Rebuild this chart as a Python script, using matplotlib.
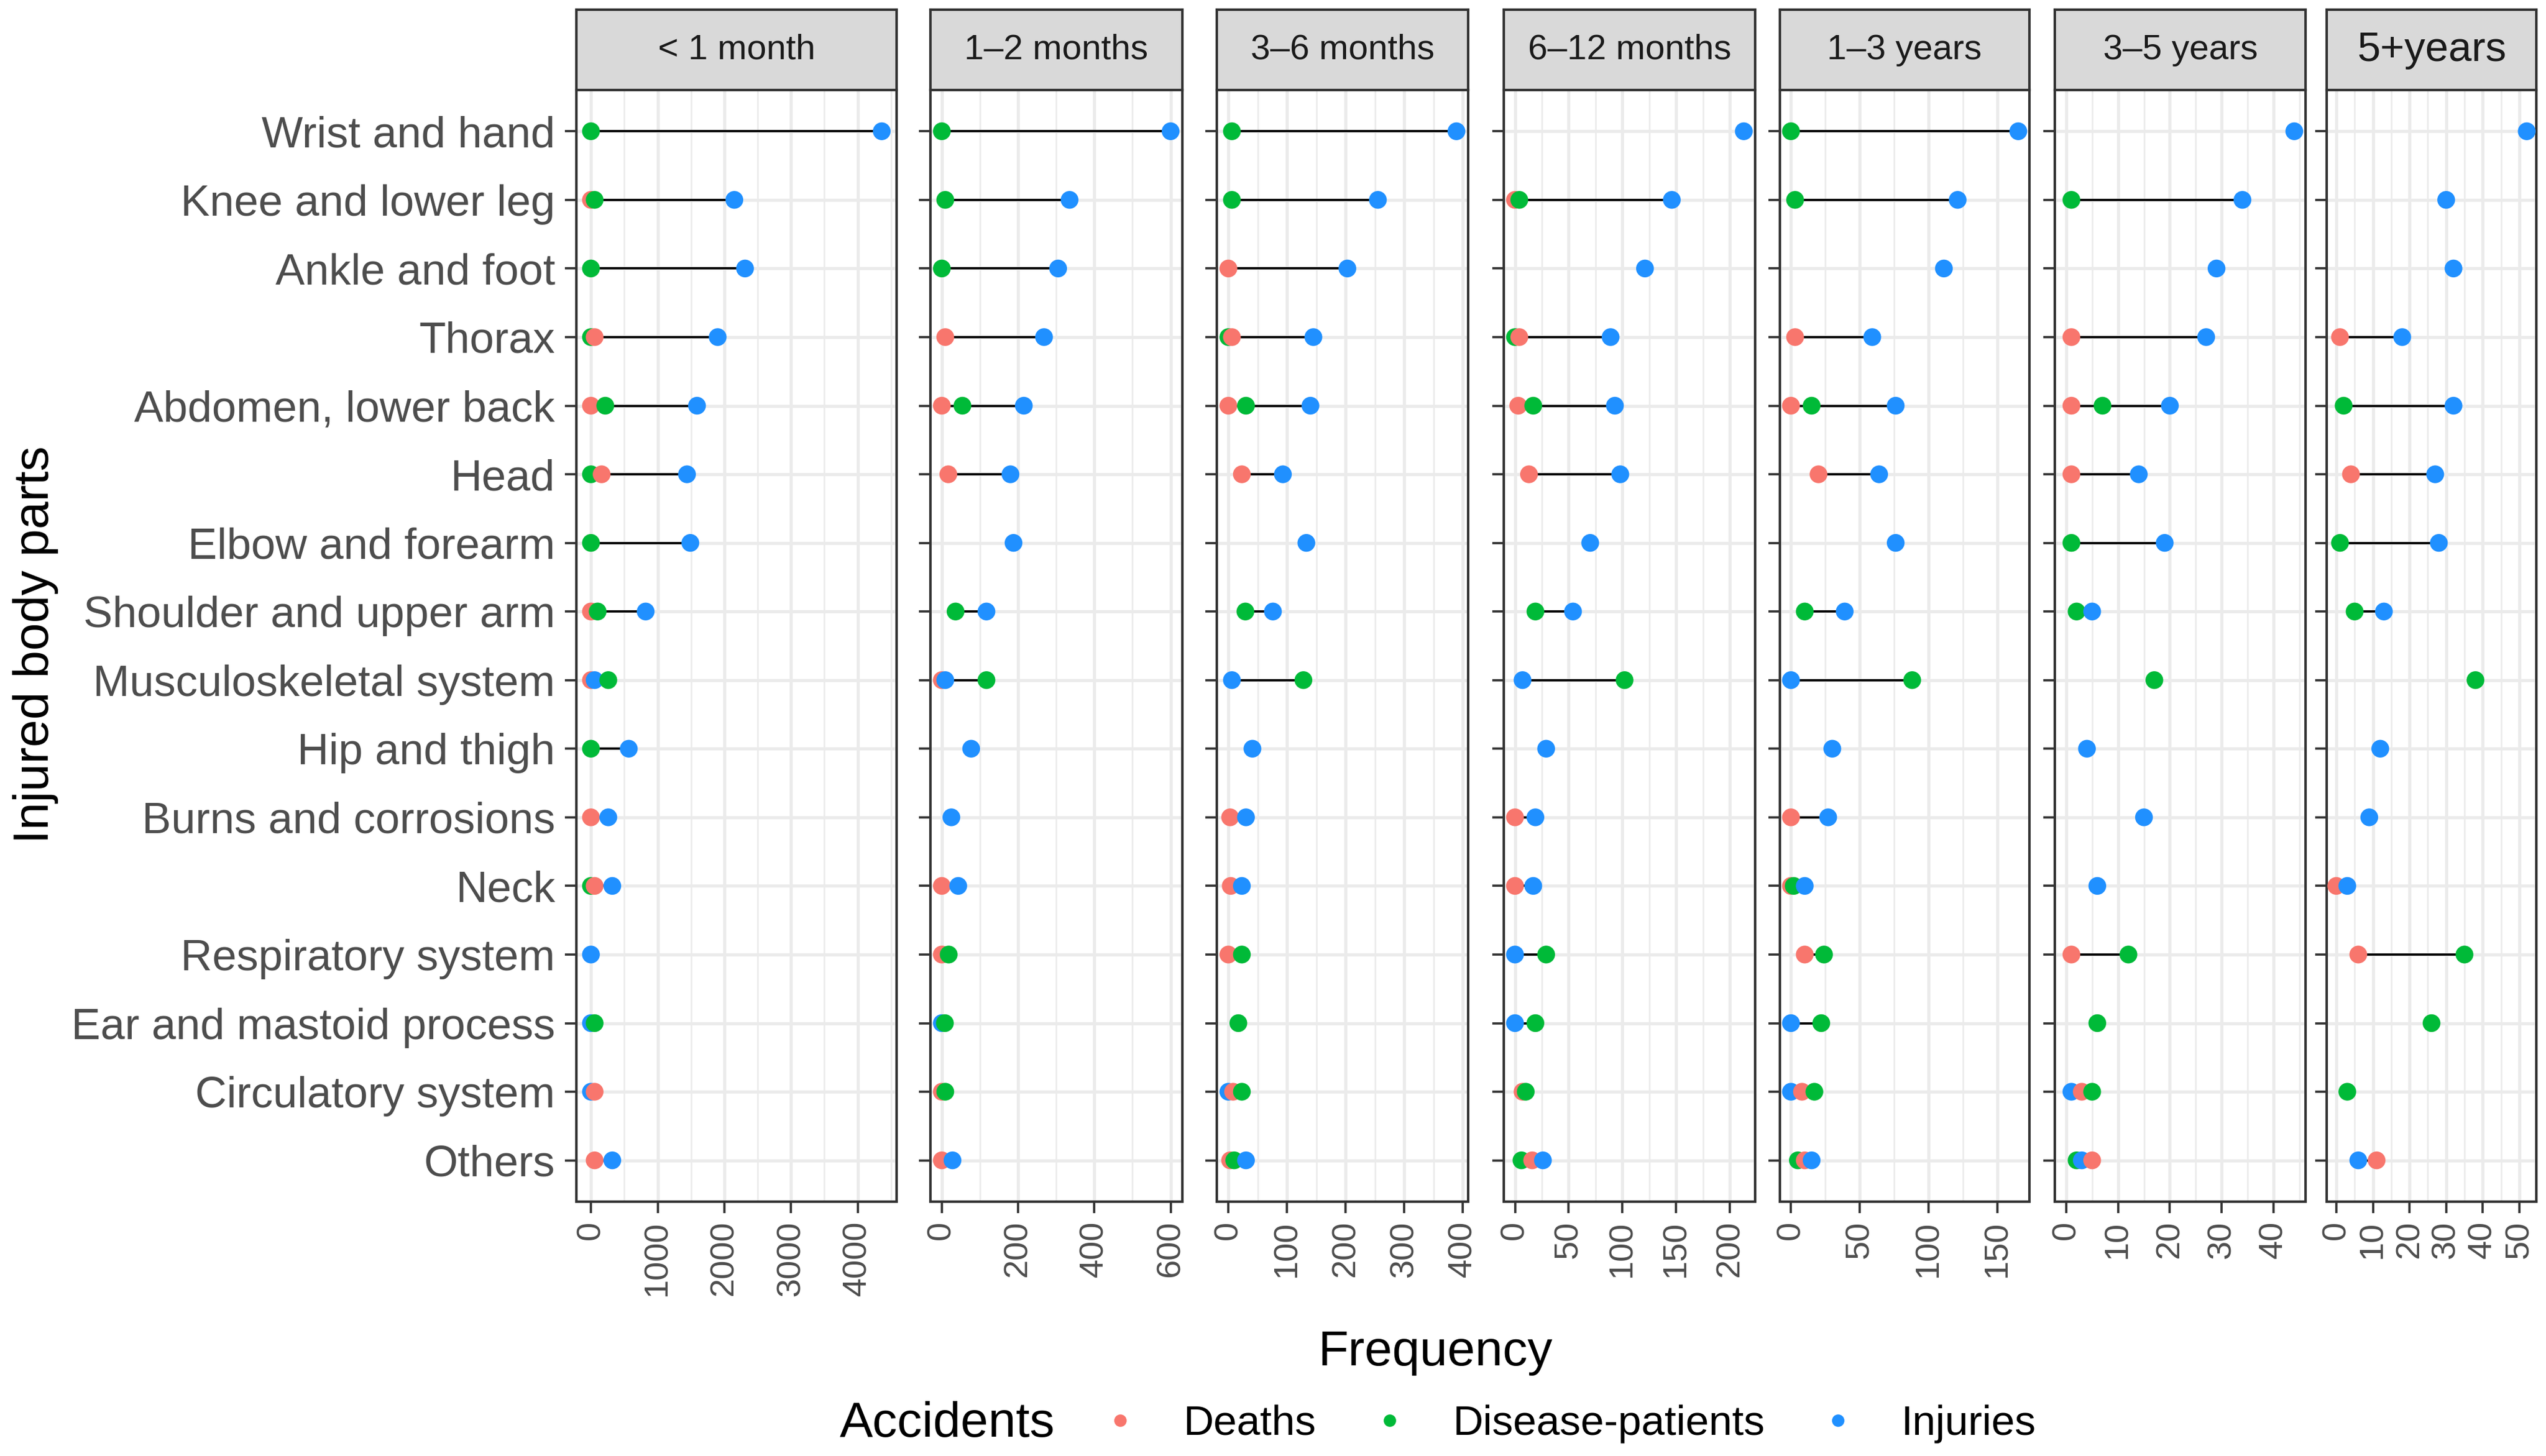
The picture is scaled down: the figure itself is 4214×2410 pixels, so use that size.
import numpy as np
import matplotlib.pyplot as plt
from matplotlib.lines import Line2D
from matplotlib.ticker import MultipleLocator

plt.rcParams['font.family'] = ['Liberation Sans', 'DejaVu Sans']

body_parts = ["Wrist and hand", "Knee and lower leg", "Ankle and foot", "Thorax",
              "Abdomen, lower back", "Head", "Elbow and forearm",
              "Shoulder and upper arm", "Musculoskeletal system", "Hip and thigh",
              "Burns and corrosions", "Neck", "Respiratory system",
              "Ear and mastoid process", "Circulatory system", "Others"]
periods = ["< 1 month", "1–2 months", "3–6 months", "6–12 months",
           "1–3 years", "3–5 years", "5+years"]
accidents = ["Deaths", "Disease-patients", "Injuries"]

nan = np.nan
# one row per period, one value per body part (nan = no point)
deaths = [
    [nan, 0, nan, 55, 0, 160, nan, 0, 0, nan, 0, 55, nan, nan, 55, 55],
    [nan, nan, nan, 9, 0, 17, nan, nan, 0, nan, nan, 0, 0, nan, 0, 0],
    [nan, nan, 0, 6, 0, 23, nan, nan, nan, nan, 3, 4, 0, nan, 8, 3],
    [nan, 0, nan, 4, 3, 13, nan, nan, nan, nan, 0, 0, nan, nan, 7, 16],
    [nan, nan, nan, 3, 0, 20, nan, nan, nan, nan, 0, 0, 10, nan, 8, 10],
    [nan, nan, nan, 1, 1, 1, nan, nan, nan, nan, nan, nan, 1, nan, 3, 5],
    [nan, nan, nan, 1, nan, 4, nan, nan, nan, nan, nan, 0, 6, nan, nan, 11],
]
disease = [
    [0, 55, 0, 0, 215, 0, 0, 100, 260, 0, nan, 0, nan, 55, nan, nan],
    [0, 9, 0, nan, 54, nan, nan, 36, 117, nan, nan, nan, 18, 8, 9, nan],
    [6, 6, nan, 0, 30, nan, nan, 29, 128, nan, nan, nan, 23, 17, 23, 10],
    [nan, 4, nan, 0, 17, nan, nan, 19, 102, nan, nan, nan, 29, 19, 10, 6],
    [0, 3, nan, nan, 15, nan, nan, 10, 88, nan, nan, 2, 24, 22, 17, 5],
    [nan, 1, nan, nan, 7, nan, 1, 2, 17, nan, nan, nan, 12, 6, 5, 2],
    [nan, nan, nan, nan, 2, nan, 1, 5, 38, nan, nan, nan, 35, 26, 3, nan],
]
injuries = [
    [4360, 2150, 2310, 1900, 1590, 1440, 1490, 820, 55, 567, 260, 320, 0, 0, 0, 320],
    [600, 335, 305, 268, 215, 180, 188, 117, 9, 77, 25, 43, nan, 0, nan, 28],
    [389, 255, 203, 145, 140, 93, 133, 76, 6, 41, 30, 23, nan, nan, 0, 30],
    [213, 146, 121, 89, 93, 98, 70, 54, 7, 29, 19, 17, 0, 0, nan, 26],
    [165, 121, 111, 59, 76, 64, 76, 39, 0, 30, 27, 10, nan, 0, 0, 15],
    [44, 34, 29, 27, 20, 14, 19, 5, nan, 4, 15, 6, nan, nan, 1, 3],
    [52, 30, 32, 18, 32, 27, 28, 13, nan, 12, 9, 3, nan, nan, nan, 6],
]

colors = ["#F8766D", "#00BA38", "#2090FF"]

# layout, in pixels of a 1568 x 896.7 canvas
PW, PH = 1568, 2410 / 2.6875
panel_x = [(355, 552), (573, 728), (749.5, 904), (926, 1081),
           (1096, 1250), (1265.5, 1420), (1433, 1562)]
tick_step = [1000, 200, 100, 50, 50, 10, 10]
strip_size = [15.6, 15.6, 15.6, 15.6, 15.6, 15.6, 18.5]
strip_top, body_top, body_bottom = 6, 55.5, 740

fig = plt.figure(figsize=(4214 / 268.75, 2410 / 268.75), dpi=268.75)
edge = '#333333'
ypos = np.arange(len(body_parts))

for i, period in enumerate(periods):
    x0, x1 = panel_x[i]
    ax = fig.add_axes([x0 / PW, 1 - body_bottom / PH, (x1 - x0) / PW,
                       (body_bottom - body_top) / PH])
    d = np.array([deaths[i], disease[i], injuries[i]], dtype=float)

    # lollipop segments from smallest to largest value in each row
    lo = np.nanmin(d, axis=0)
    hi = np.nanmax(d, axis=0)
    seg = np.sum(~np.isnan(d), axis=0) >= 2
    ax.hlines(ypos[seg], lo[seg], hi[seg], color='black', lw=1.0, zorder=2)

    xs = d.ravel()
    ys = np.tile(ypos, 3)
    cs = np.repeat(colors, len(body_parts))
    keep = ~np.isnan(xs)
    order = np.argsort(xs[keep], kind='stable')
    ax.scatter(xs[keep][order], ys[keep][order], s=62, c=cs[keep][order],
               linewidths=0, zorder=3)

    xmin, xmax = min(0, np.nanmin(d)), np.nanmax(d)
    pad = 0.05 * (xmax - xmin)
    ax.set_xlim(xmin - pad, xmax + pad)
    ax.set_ylim(len(body_parts) - 0.4, -0.6)
    ax.xaxis.set_major_locator(MultipleLocator(tick_step[i]))
    ax.xaxis.set_minor_locator(MultipleLocator(tick_step[i] / 2))
    ax.set_yticks(ypos)
    ax.set_yticklabels(body_parts if i == 0 else [])

    ax.grid(which='major', color='#EBEBEB', lw=1.4)
    ax.grid(which='minor', axis='x', color='#EBEBEB', lw=0.7)
    ax.set_axisbelow(True)
    for s in ax.spines.values():
        s.set_color(edge)
        s.set_linewidth(1.1)
    ax.tick_params(which='major', length=5, width=1.0, color=edge,
                   labelcolor='#4D4D4D')
    ax.tick_params(which='minor', length=0)
    ax.tick_params(axis='x', labelsize=15, labelrotation=90, pad=3.5)
    ax.tick_params(axis='y', labelsize=19.4, pad=4.5)

    # facet strip
    sax = fig.add_axes([x0 / PW, 1 - body_top / PH, (x1 - x0) / PW,
                        (body_top - strip_top) / PH])
    sax.set_facecolor('#D9D9D9')
    sax.set_xticks([])
    sax.set_yticks([])
    for s in sax.spines.values():
        s.set_color(edge)
        s.set_linewidth(1.1)
    sax.text(0.5, 0.5, period, transform=sax.transAxes, ha='center',
             va='center', fontsize=strip_size[i], color='#1A1A1A')

fig.text(884 / PW, 1 - 833 / PH, 'Frequency', ha='center', va='center',
         fontsize=22)
fig.text(22 / PW, 1 - 397 / PH, 'Injured body parts', rotation=90,
         ha='center', va='center', fontsize=22)

handles = [Line2D([], [], ls='none', marker='o', ms=4.5, mfc=c, mec=c)
           for c in colors]
fig.legend(handles, accidents, loc='center left',
           bbox_to_anchor=(677 / PW, 1 - 877 / PH), ncol=3, frameon=False,
           fontsize=18.6, handlelength=1.0, handletextpad=1.0,
           columnspacing=1.25, borderpad=0, borderaxespad=0)
fig.text(517 / PW, 1 - 877 / PH, 'Accidents', ha='left', va='center',
         fontsize=22)

fig.savefig('out.png', dpi=268.75)
